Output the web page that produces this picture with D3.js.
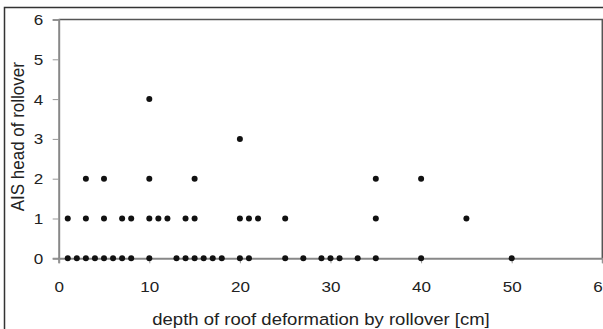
<!DOCTYPE html>
<html>
<head>
<meta charset="utf-8">
<script src="https://cdn.jsdelivr.net/npm/d3@7"></script>
<style>
html,body{margin:0;padding:0;background:#fff;}
svg{display:block;}
text{font-family:"Liberation Sans",Arial,sans-serif;fill:#222;}
</style>
</head>
<body>
<svg id="chart" width="603" height="329"></svg>
<script>
// Data: depth of roof deformation [cm] grouped by AIS head level
const ais0 = [1,2,3,4,5,6,7,8,10,13,14,15,16,17,18,20,21,25,27,29,30,31,33,35,40,50];
const ais1 = [1,3,5,7,8,10,11,12,14,15,20,21,22,25,35,45];
const ais2 = [3,5,10,15,35,40];
const ais3 = [20];
const ais4 = [10];
const xTicks = [0,10,20,30,40,50,60];
const yTicks = [0,1,2,3,4,5,6];
const xTitle = "depth of roof deformation by rollover [cm]";
const yTitle = "AIS head of rollover";

const points = [];
[[0,ais0],[1,ais1],[2,ais2],[3,ais3],[4,ais4]].forEach(([lvl, arr]) => arr.forEach(d => points.push({x:d, y:lvl})));

const svg = d3.select("#chart");
const L = 58.7, R = 602.3, T = 19.5, B = 258.3;
const SX = 1.1;
const x = d3.scaleLinear().domain([0,60]).range([L,R]);
const y = d3.scaleLinear().domain([0,6]).range([B,T]);

// outer border
svg.append("rect").attr("x",4.5).attr("y",7.5).attr("width",700).attr("height",400)
  .attr("fill","none").attr("stroke","#333").attr("stroke-width",1.5);

// plot frame top/right
svg.append("path").attr("d",`M${L},${T}H${R}V${B}`).attr("fill","none")
  .attr("stroke","#555").attr("stroke-width",1.5);

// y axis
const yAxis = svg.append("g").attr("transform",`translate(${L},0)`)
  .call(d3.axisLeft(y).tickValues(yTicks).tickSize(6).tickPadding(7).tickFormat(d3.format("d")));
yAxis.select(".domain").attr("stroke","#888").attr("stroke-width",2);
yAxis.selectAll(".tick line").attr("stroke","#999").attr("stroke-width",1);
yAxis.selectAll("text").style("font-size","15.5px").attr("fill","#222")
  .style("font-family","'Liberation Sans',Arial,sans-serif")
  .attr("x",-15.4/SX).attr("transform",`scale(${SX},1)`);

// x axis at y=0
const xAxis = svg.append("g").attr("transform",`translate(0,${B})`)
  .call(d3.axisBottom(x).tickValues(xTicks).tickSize(5).tickPadding(18).tickFormat(d3.format("d")));
xAxis.select(".domain").attr("stroke","#888").attr("stroke-width",2);
xAxis.selectAll(".tick line").attr("stroke","#999").attr("stroke-width",1);
xAxis.selectAll("text").style("font-size","15.5px").attr("fill","#222")
  .style("font-family","'Liberation Sans',Arial,sans-serif")
  .attr("transform",`scale(${SX},1)`);

// points
svg.append("g").selectAll("circle").data(points).join("circle")
  .attr("cx",d=>x(d.x)).attr("cy",d=>y(d.y)).attr("r",3).attr("fill","#111");

// titles
svg.append("text").attr("transform",`translate(321,325) scale(1.09,1)`)
  .attr("text-anchor","middle").style("font-size","17px").text(xTitle);
svg.append("text").attr("transform",`translate(24,136.7) rotate(-90) scale(1,1.1)`)
  .attr("text-anchor","middle").style("font-size","17px").text(yTitle);
</script>
</body>
</html>
